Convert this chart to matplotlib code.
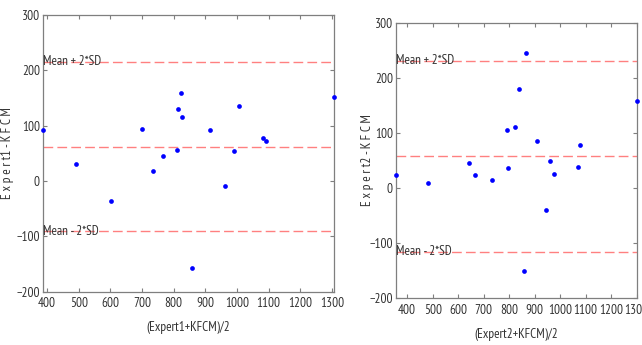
import numpy as np
import matplotlib
matplotlib.use("Agg")
import matplotlib.pyplot as plt

plt.rcParams['font.family'] = ['PT Sans Narrow', 'Liberation Sans', 'DejaVu Sans']

# Bland-Altman data: mean of the two methods vs. their difference
avg1 = [386, 492, 602, 700, 733, 765, 810, 815, 824, 827, 857, 916, 963, 992, 1006, 1082, 1091, 1305]
diff1 = [91.5, 30.7, -36.7, 93.9, 18.7, 45.1, 56.6, 131, 158.8, 115, -158, 91.5, -9, 54, 136, 78, 72.8, 151.6]

avg2 = [355, 483, 641, 664, 731, 793, 796, 821, 840, 866, 860, 910, 944, 959, 976, 1069, 1079, 1300]
diff2 = [23.2, 9.1, 44.5, 23.2, 14, 105.5, 35.4, 110.4, 178.7, 245, -151, 84.8, -40, 49.4, 25.6, 37.2, 77.4, 157.3]

xticks = [400, 500, 600, 700, 800, 900, 1000, 1100, 1200, 1300]
yticks = [-200, -100, 0, 100, 200, 300]

panels = [
    dict(x=avg1, y=diff1, xlabel='(Expert1+KFCM)/2', ylabel='E x p e r t1 - K F C M',
         rect=[42.7, 15.0, 333.5, 291.7], ylabel_x=14),
    dict(x=avg2, y=diff2, xlabel='(Expert2+KFCM)/2', ylabel='E x p e r t2 - K F C M',
         rect=[395.7, 22.7, 636.7, 298.0], ylabel_x=374),
]

W, H = 642, 345
fig = plt.figure(figsize=(W / 100, H / 100), dpi=100)

line_color = '#ff8080'
text_color = '#333333'
spine_color = '#7f7f7f'
fs = 9.5

for p in panels:
    x0, y0, x1, y1 = p['rect']
    ax = fig.add_axes([x0 / W, 1 - y1 / H, (x1 - x0) / W, (y1 - y0) / H])
    x = np.array(p['x'], dtype=float)
    y = np.array(p['y'], dtype=float)
    m = y.mean()
    sd = y.std(ddof=1)

    ax.plot(x, y, 'o', color='#0000ff', markersize=3.4, markeredgewidth=0, clip_on=False, zorder=3)
    for level in (m + 2 * sd, m, m - 2 * sd):
        ax.axhline(level, color=line_color, lw=1.0, ls=(0, (7, 3)), zorder=2)

    ax.set_xlim(x.min(), x.max())
    ax.set_ylim(-200, 300)
    ax.set_xticks(xticks)
    ax.set_yticks(yticks)

    ax.text(x.min(), m + 2 * sd, 'Mean + 2*SD', fontsize=fs, color=text_color,
            va='center', ha='left', zorder=4)
    ax.text(x.min(), m - 2 * sd, 'Mean - 2*SD', fontsize=fs, color=text_color,
            va='center', ha='left', zorder=4)

    ax.tick_params(direction='in', top=True, right=True, length=3, width=0.8,
                   color=spine_color, labelsize=fs, labelcolor=text_color, pad=2)
    ax.tick_params(axis='x', pad=4)
    for s in ax.spines.values():
        s.set_color(spine_color)
        s.set_linewidth(0.9)

    ax.set_xlabel(p['xlabel'], fontsize=fs, color=text_color, labelpad=8)
    ax.set_ylabel(p['ylabel'], fontsize=fs, color=text_color)
    ax.yaxis.set_label_coords((p['ylabel_x'] - x0) / (x1 - x0), 0.5)

fig.savefig('out.png', dpi=100, facecolor='white')
